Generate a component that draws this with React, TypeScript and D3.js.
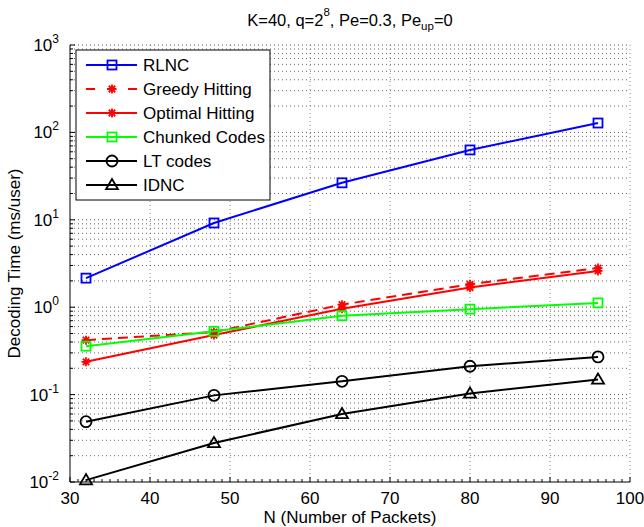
import React from 'react';
import * as d3 from 'd3';

const packets = [32, 48, 64, 80, 96];
const rlnc = [2.15, 9.2, 26.5, 63, 128];
const greedy = [0.42, 0.52, 1.07, 1.83, 2.8];
const optimal = [0.237, 0.48, 0.96, 1.68, 2.6];
const chunked = [0.358, 0.53, 0.8, 0.95, 1.12];
const ltCodes = [0.049, 0.098, 0.142, 0.211, 0.27];
const idnc = [0.0105, 0.028, 0.06, 0.103, 0.149];

const xTicks = [30, 40, 50, 60, 70, 80, 90, 100];
const yExps = [-2, -1, 0, 1, 2, 3];
const seriesNames = ['RLNC', 'Greedy Hitting', 'Optimal Hitting', 'Chunked Codes', 'LT codes', 'IDNC'];

const W = 644, H = 527;
const M = { left: 70, right: 14, top: 45, bottom: 45 };
const FONT = 'Liberation Sans, Arial, Helvetica, sans-serif';

type Marker = 'square' | 'star' | 'circle' | 'triangle';
interface Series { name: string; values: number[]; color: string; dash?: string; marker: Marker; }

const series: Series[] = [
  { name: seriesNames[0], values: rlnc, color: '#0000ff', marker: 'square' },
  { name: seriesNames[1], values: greedy, color: '#ff0000', dash: '10,6', marker: 'star' },
  { name: seriesNames[2], values: optimal, color: '#ff0000', marker: 'star' },
  { name: seriesNames[3], values: chunked, color: '#00ff00', marker: 'square' },
  { name: seriesNames[4], values: ltCodes, color: '#000000', marker: 'circle' },
  { name: seriesNames[5], values: idnc, color: '#000000', marker: 'triangle' },
];

function MarkerShape({ type, x, y, color }: { type: Marker; x: number; y: number; color: string }) {
  const sw = 1.8;
  if (type === 'square') {
    return <rect x={x - 4.5} y={y - 4.5} width={9} height={9} fill="none" stroke={color} strokeWidth={sw} />;
  }
  if (type === 'circle') {
    return <circle cx={x} cy={y} r={5.5} fill="none" stroke={color} strokeWidth={sw} />;
  }
  if (type === 'triangle') {
    const s = 6;
    const pts = `${x},${y - s} ${x - s},${y + s * 0.7} ${x + s},${y + s * 0.7}`;
    return <polygon points={pts} fill="none" stroke={color} strokeWidth={sw} />;
  }
  const r = 4.5, d = r * 0.72;
  const p = `M${x - r},${y}L${x + r},${y}M${x},${y - r}L${x},${y + r}M${x - d},${y - d}L${x + d},${y + d}M${x - d},${y + d}L${x + d},${y - d}`;
  return <path d={p} stroke={color} strokeWidth={sw} fill="none" />;
}

export default function App() {
  const x = d3.scaleLinear().domain([30, 100]).range([M.left, W - M.right]);
  const y = d3.scaleLog().domain([0.01, 1000]).range([H - M.bottom, M.top]);
  const x0 = x(30), x1 = x(100), y0 = y(0.01), y1 = y(1000);

  const minorY: number[] = [];
  for (let e = -2; e < 3; e++) for (let m = 2; m <= 9; m++) minorY.push(m * Math.pow(10, e));
  const minorX: number[] = [];
  for (let v = 31; v < 100; v++) if (v % 10 !== 0) minorX.push(v);

  const line = d3.line<number>().x((_, i) => x(packets[i])).y((d) => y(d));

  const legX = 76, legY = 50, legW = 194, legH = 150, rowH = 24;

  return (
    <svg width={W} height={H} style={{ position: 'absolute', left: 0, top: 0, background: '#fff' }} fontFamily={FONT}>
      <rect x={0} y={0} width={W} height={H} fill="#fff" />
      {/* grid */}
      <g stroke="#555" strokeWidth={1} strokeDasharray="1,3" fill="none">
        {xTicks.slice(1).map((t) => (
          <line key={'gx' + t} x1={x(t)} x2={x(t)} y1={y0} y2={y1} stroke="#888" />
        ))}
        {yExps.slice(1).map((e) => (
          <line key={'gy' + e} x1={x0} x2={x1} y1={y(Math.pow(10, e))} y2={y(Math.pow(10, e))} />
        ))}
        {minorY.map((v, i) => (
          <line key={'gm' + i} x1={x0} x2={x1} y1={y(v)} y2={y(v)} stroke="#666" />
        ))}
      </g>
      {/* axes */}
      <g stroke="#000" strokeWidth={1}>
        <line x1={x0} x2={x0} y1={y0} y2={y1} />
        <line x1={x0} x2={x1} y1={y0} y2={y0} />
        {xTicks.map((t) => (
          <line key={'tx' + t} x1={x(t)} x2={x(t)} y1={y0} y2={y0 - 5} />
        ))}
        {minorX.map((t) => (
          <line key={'tmx' + t} x1={x(t)} x2={x(t)} y1={y0} y2={y0 - 3} />
        ))}
        {yExps.map((e) => (
          <line key={'ty' + e} x1={x0} x2={x0 + 5} y1={y(Math.pow(10, e))} y2={y(Math.pow(10, e))} />
        ))}
        {minorY.map((v, i) => (
          <line key={'tmy' + i} x1={x0} x2={x0 + 3} y1={y(v)} y2={y(v)} />
        ))}
      </g>
      {/* tick labels */}
      <g fontSize={17} fill="#000">
        {xTicks.map((t) => (
          <text key={'lx' + t} x={x(t)} y={y0 + 22} textAnchor="middle">{t}</text>
        ))}
        {yExps.map((e) => (
          <text key={'ly' + e} x={x0 - 11} y={y(Math.pow(10, e)) + 6} textAnchor="end">
            10<tspan fontSize={12} dy={-8}>{e}</tspan>
          </text>
        ))}
      </g>
      {/* axis labels & title */}
      <text x={(x0 + x1) / 2} y={H - 4} textAnchor="middle" fontSize={17}>N (Number of Packets)</text>
      <text transform={`translate(20,${(y0 + y1) / 2}) rotate(-90)`} textAnchor="middle" fontSize={17}>Decoding Time (ms/user)</text>
      <text x={(x0 + x1) / 2} y={26} textAnchor="middle" fontSize={16.5}>
        K=40, q=2<tspan fontSize={11.5} dy={-10}>8</tspan><tspan dy={10}>, Pe=0.3, Pe</tspan><tspan fontSize={11.5} dy={4}>up</tspan><tspan dy={-4}>=0</tspan>
      </text>
      {/* series */}
      {series.map((s) => (
        <g key={s.name}>
          <path d={line(s.values) || ''} fill="none" stroke={s.color} strokeWidth={2} strokeDasharray={s.dash} />
          {s.values.map((v, i) => (
            <MarkerShape key={i} type={s.marker} x={x(packets[i])} y={y(v)} color={s.color} />
          ))}
        </g>
      ))}
      {/* legend */}
      <rect x={legX} y={legY} width={legW} height={legH} fill="#fff" stroke="#000" strokeWidth={1} />
      {series.map((s, i) => {
        const cy = legY + 15 + i * rowH;
        return (
          <g key={'leg' + s.name}>
            <line x1={legX + 10} x2={legX + 61} y1={cy} y2={cy} stroke={s.color} strokeWidth={2} strokeDasharray={s.dash ? '9,12' : undefined} />
            <MarkerShape type={s.marker} x={legX + 36} y={cy} color={s.color} />
            <text x={legX + 67} y={cy + 6} fontSize={17}>{s.name}</text>
          </g>
        );
      })}
    </svg>
  );
}
